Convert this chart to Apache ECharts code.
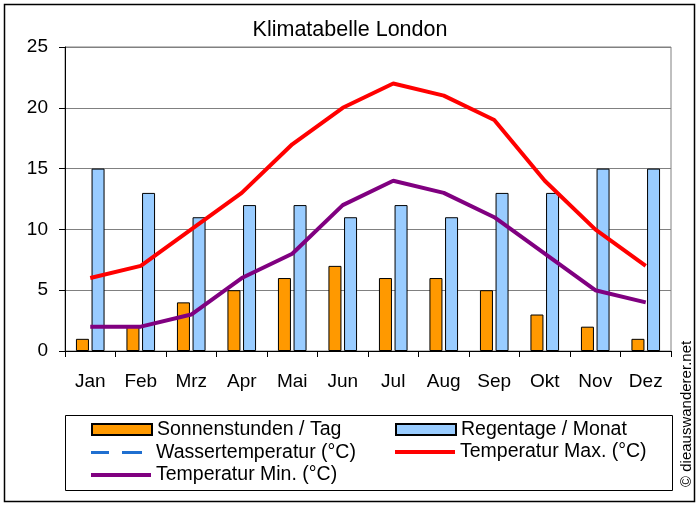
<!DOCTYPE html>
<html>
<head>
<meta charset="utf-8">
<script src="https://cdn.jsdelivr.net/npm/echarts@6/dist/echarts.min.js"></script>
<style>
  html, body { margin: 0; padding: 0; background: #fff; }
  #main { width: 700px; height: 506px; }
</style>
</head>
<body>
<div id="main"></div>
<script>
// data
let months = ["Jan", "Feb", "Mrz", "Apr", "Mai", "Jun", "Jul", "Aug", "Sep", "Okt", "Nov", "Dez"];
let sonnenstunden = [1, 2, 4, 5, 6, 7, 6, 6, 5, 3, 2, 1];
let regentage = [15, 13, 11, 12, 12, 11, 12, 11, 13, 13, 15, 15];
let wassertemp = [null, null, null, null, null, null, null, null, null, null, null, null];
let tempMax = [6, 7, 10, 13, 17, 20, 22, 21, 19, 14, 10, 7];
let tempMin = [2, 2, 3, 6, 8, 12, 14, 13, 11, 8, 5, 4];
let yTicks = [0, 5, 10, 15, 20, 25];

let font = "Liberation Sans";
let myChart = echarts.init(document.getElementById("main"));

// one legend per entry so the two columns line up like the original
function legendAt(name, left, top, icon, height) {
    return {
        data: [name],
        left: left,
        top: top,
        icon: icon,
        itemWidth: 60,
        itemHeight: height,
        symbolKeepAspect: false,
        padding: 0,
        textStyle: { fontFamily: font, fontSize: 19.5, color: "#000" }
    };
}

// dashed icon: two dashes, padded to full icon width by a zero-area segment
let dashIcon = "path://M0,0h18v3h-18zM31,0h20v3h-20zM60,0L60,3";

let option = {
    animation: false,
    backgroundColor: "#fff",
    title: {
        text: "Klimatabelle London",
        left: "center",
        top: 19,
        padding: 0,
        textStyle: { fontFamily: font, fontSize: 21.5, fontWeight: "normal", color: "#000" }
    },
    grid: {
        left: 65, right: 29, top: 47, bottom: 155,
        show: true, borderColor: "#808080", borderWidth: 1
    },
    legend: [
        legendAt("Sonnenstunden / Tag", 91, 419.5, "rect", 11),
        legendAt("Regentage / Monat", 395, 419.5, "rect", 11),
        legendAt("Wassertemperatur (°C)", 91, 442.5, dashIcon, 3),
        legendAt("Temperatur Max. (°C)", 395, 442, "rect", 4),
        legendAt("Temperatur Min. (°C)", 91, 465, "rect", 4)
    ],
    xAxis: {
        type: "category",
        data: months,
        boundaryGap: true,
        axisLine: { lineStyle: { color: "#000", width: 1 } },
        axisTick: { show: true, alignWithLabel: false, length: 6, lineStyle: { color: "#000" } },
        axisLabel: { fontFamily: font, fontSize: 19, color: "#000", margin: 21 }
    },
    yAxis: {
        type: "value",
        min: yTicks[0],
        max: yTicks[yTicks.length - 1],
        interval: 5,
        axisLine: { show: true, lineStyle: { color: "#000", width: 1 } },
        axisTick: { show: true, length: 6, lineStyle: { color: "#000" } },
        axisLabel: { fontFamily: font, fontSize: 19, color: "#000", margin: 17 },
        splitLine: { lineStyle: { color: "#808080", width: 1 } }
    },
    series: [
        {
            name: "Sonnenstunden / Tag",
            type: "bar",
            data: sonnenstunden,
            barWidth: 13,
            barGap: "20%",
            itemStyle: { color: "#FF9900", borderColor: "#000", borderWidth: 1 }
        },
        {
            name: "Regentage / Monat",
            type: "bar",
            data: regentage,
            barWidth: 13,
            itemStyle: { color: "#99CCFF", borderColor: "#000", borderWidth: 1 }
        },
        {
            name: "Wassertemperatur (°C)",
            type: "line",
            data: wassertemp,
            symbol: "none",
            itemStyle: { color: "#1F6FD0", borderWidth: 0 },
            lineStyle: { color: "#1F6FD0", width: 3, type: [18, 13] }
        },
        {
            name: "Temperatur Max. (°C)",
            type: "line",
            data: tempMax,
            symbol: "none",
            itemStyle: { color: "#FF0000", borderWidth: 0 },
            lineStyle: { color: "#FF0000", width: 4 }
        },
        {
            name: "Temperatur Min. (°C)",
            type: "line",
            data: tempMin,
            symbol: "none",
            itemStyle: { color: "#800080", borderWidth: 0 },
            lineStyle: { color: "#800080", width: 4 }
        }
    ],
    graphic: [
        {
            type: "rect",
            shape: { x: 4.5, y: 4.5, width: 690, height: 497 },
            style: { fill: null, stroke: "#000", lineWidth: 1.5 },
            silent: true
        },
        {
            type: "rect",
            shape: { x: 65.5, y: 415.5, width: 607, height: 75 },
            style: { fill: null, stroke: "#000", lineWidth: 1 },
            silent: true
        },
        {
            type: "text",
            x: 694,
            y: 487,
            rotation: Math.PI / 2,
            style: {
                text: "© dieauswanderer.net",
                font: "15px Liberation Sans",
                fill: "#000",
                textAlign: "left",
                textVerticalAlign: "bottom"
            },
            silent: true
        }
    ]
};

myChart.setOption(option);
</script>
</body>
</html>
